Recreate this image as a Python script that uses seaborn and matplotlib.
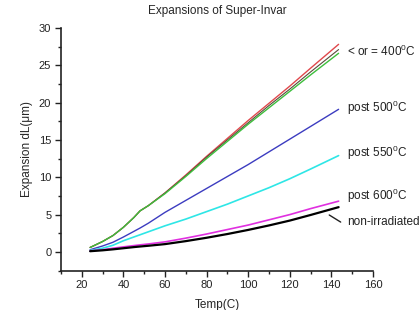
import numpy as np
import pandas as pd
import matplotlib
matplotlib.use("Agg")
import matplotlib.pyplot as plt
from matplotlib.ticker import MultipleLocator
import seaborn as sns

# temperatures (C) where values were read
temp = [24, 30, 35, 40, 45, 48, 52, 60, 70, 80, 90, 100, 110, 120, 130, 143.5]

# expansion dL (um) per series
red_400 = [0.6, 1.4, 2.2, 3.3, 4.6, 5.5, 6.2, 7.9, 10.3, 12.8, 15.2, 17.6, 19.9, 22.2, 24.6, 27.8]
dark_400 = [0.6, 1.4, 2.2, 3.3, 4.6, 5.5, 6.2, 7.9, 10.2, 12.7, 15.0, 17.3, 19.6, 21.8, 24.1, 27.1]
green_400 = [0.6, 1.4, 2.2, 3.3, 4.6, 5.5, 6.2, 7.8, 10.1, 12.5, 14.8, 17.1, 19.3, 21.5, 23.7, 26.6]
post_500 = [0.3, 0.8, 1.3, 2.0, 2.75, 3.2, 3.85, 5.3, 6.9, 8.5, 10.1, 11.7, 13.4, 15.1, 16.8, 19.1]
post_550 = [0.2, 0.5, 0.9, 1.5, 2.0, 2.3, 2.7, 3.5, 4.4, 5.4, 6.4, 7.5, 8.6, 9.8, 11.1, 12.9]
post_600 = [0.15, 0.3, 0.5, 0.68, 0.85, 0.95, 1.07, 1.35, 1.85, 2.4, 3.0, 3.6, 4.3, 5.0, 5.8, 6.8]
non_irr = [0.1, 0.22, 0.35, 0.5, 0.65, 0.73, 0.83, 1.05, 1.45, 1.9, 2.4, 2.95, 3.55, 4.2, 4.95, 6.0]

series = [
    (red_400, "#e0484c", 1.0),
    (dark_400, "#5a4a3a", 0.8),
    (green_400, "#3dbf3d", 1.0),
    (post_500, "#3c3cc0", 1.0),
    (post_550, "#2ee6e6", 1.2),
    (post_600, "#e030e0", 1.2),
    (non_irr, "#000000", 1.6),
]

labels = ["< or = 400$^{\\mathregular{0}}$C", "post 500$^{\\mathregular{0}}$C",
          "post 550$^{\\mathregular{0}}$C", "post 600$^{\\mathregular{0}}$C", "non-irradiated"]
label_y = [26.9, 19.3, 13.3, 7.5, 4.0]

sns.set_theme(style="ticks")
plt.rcParams["font.family"] = ["Liberation Sans", "DejaVu Sans"]

fig = plt.figure(figsize=(4.19, 3.10), dpi=100)
ax = fig.add_axes([0.1456, 0.127, 0.7444, 0.783])

for vals, color, lw in series:
    df = pd.DataFrame({"temp": temp, "dL": vals})
    sns.lineplot(data=df, x="temp", y="dL", color=color, linewidth=lw, ax=ax)

ax.set_xlim(10, 160)
ax.set_ylim(-2.5, 30)
ax.xaxis.set_major_locator(MultipleLocator(20))
ax.xaxis.set_minor_locator(MultipleLocator(10))
ax.yaxis.set_major_locator(MultipleLocator(5))
ax.yaxis.set_minor_locator(MultipleLocator(2.5))
ax.set_xticks([20, 40, 60, 80, 100, 120, 140, 160])
ax.tick_params(which="major", direction="out", length=4, width=1, labelsize=8, colors="#222222", pad=3)
ax.tick_params(which="minor", direction="out", length=2.5, width=1, colors="#222222")
for side in ["top", "right"]:
    ax.spines[side].set_visible(False)
for side in ["left", "bottom"]:
    ax.spines[side].set_linewidth(1.2)
    ax.spines[side].set_color("#222222")

ax.set_xlabel("Temp(C)", fontsize=8.5, labelpad=6)
ax.set_ylabel("Expansion dL(\u03bcm)", fontsize=8.5, labelpad=4)
ax.set_title("Expansions of Super-Invar", fontsize=8.5, pad=10)

for text, yv in zip(labels, label_y):
    ax.text(147.5, yv, text, fontsize=8.5, va="center", ha="left", color="#222222")
ax.plot([139, 144.5], [4.95, 4.0], color="#222222", linewidth=1.0)

fig.savefig("out.png", dpi=100)
